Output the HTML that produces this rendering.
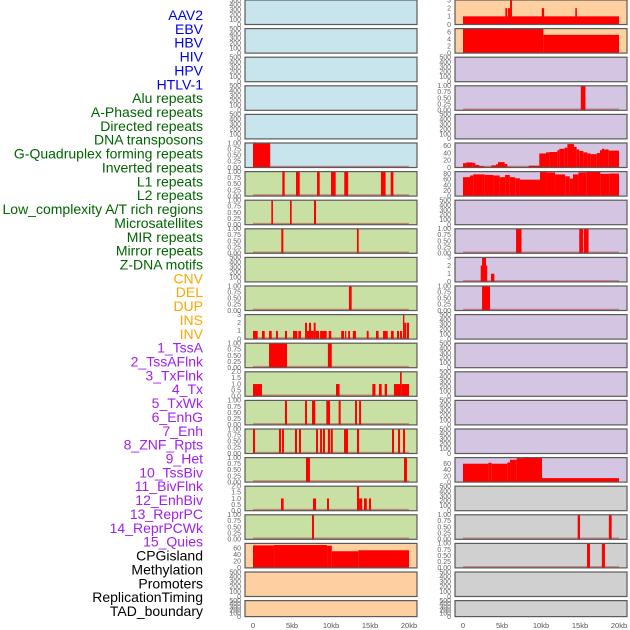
<!DOCTYPE html>
<html><head><meta charset="utf-8">
<style>
html,body{margin:0;padding:0;background:#fff;}
svg{display:block;font-family:"Liberation Sans",sans-serif;}
</style></head>
<body>
<svg id="chart" width="630" height="630" xmlns="http://www.w3.org/2000/svg"></svg>
<script>
// ---- data ----
const labelNames = ["AAV2","EBV","HBV","HIV","HPV","HTLV-1","Alu repeats","A-Phased repeats","Directed repeats","DNA transposons","G-Quadruplex forming repeats","Inverted repeats","L1 repeats","L2 repeats","Low_complexity A/T rich regions","Microsatellites","MIR repeats","Mirror repeats","Z-DNA motifs","CNV","DEL","DUP","INS","INV","1_TssA","2_TssAFlnk","3_TxFlnk","4_Tx","5_TxWk","6_EnhG","7_Enh","8_ZNF_Rpts","9_Het","10_TssBiv","11_BivFlnk","12_EnhBiv","13_ReprPC","14_ReprPCWk","15_Quies","CPGisland","Methylation","Promoters","ReplicationTiming","TAD_boundary"];
const labelColors = ["#0000ee","#0000ee","#0000ee","#0000ee","#0000ee","#0000ee","#006400","#006400","#006400","#006400","#006400","#006400","#006400","#006400","#006400","#006400","#006400","#006400","#006400","#ffa500","#ffa500","#ffa500","#ffa500","#ffa500","#a020f0","#a020f0","#a020f0","#a020f0","#a020f0","#a020f0","#a020f0","#a020f0","#a020f0","#a020f0","#a020f0","#a020f0","#a020f0","#a020f0","#a020f0","#000","#000","#000","#000","#000"];
const xTicks = [0,5,10,15,20];
const xTickLabels = ["0","5kb","10kb","15kb","20kb"];
const ticks500 = [0,100,200,300,400,500];
const ticks1 = [0,0.25,0.5,0.75,1];
const ticks1Lab = ["0.00","0.25","0.50","0.75","1.00"];
const ticks3 = [0,1,2,3];
const ticks2 = [0,0.5,1,1.5,2];
const ticks2Lab = ["0.0","0.5","1.0","1.5","2.0"];
// segments: [startKb, endKb, value]
const d_HTLV1 = [[0,2.2,1]];
const d_Alu = [[3.76,4.06,1],[5.51,5.99,1],[8.21,8.55,1],[10.0,10.6,1],[11.7,12.2,1],[16.4,17.0,1],[17.65,18.0,1]];
const d_APhased = [[2.35,2.56,1],[4.74,4.96,1],[7.82,8.08,1]];
const d_Directed = [[3.63,3.89,1],[13.33,13.55,1]];
const d_G4 = [[12.3,12.65,1]];
const d_Inverted = [[0,0.6,1],[1.15,1.5,1],[2.05,2.4,1],[2.95,3.2,1],[4.1,4.36,1],[5.13,5.68,1],[5.81,6.15,1],[6.67,6.92,2],[6.92,7.18,1],[7.18,7.44,2],[7.44,7.78,1],[7.78,8.03,2],[8.03,8.46,1],[8.6,9.45,1],[9.7,10.04,1],[11.3,11.67,1],[11.8,11.96,1],[12.2,12.44,1],[12.8,13.2,1],[14.58,14.83,1],[15.77,16.1,1],[16.67,17.27,1],[17.69,18.04,1],[18.46,18.72,1],[18.85,19.1,1],[19.23,19.4,3],[19.4,19.65,2],[19.74,20,2]];
const d_L1 = [[2.05,4.36,1],[9.6,10.1,1]];
const d_L2 = [[0,1.15,1],[10.64,11.1,1],[15.3,15.7,1],[16.15,16.5,1],[16.88,17.18,1],[18.07,18.85,1],[18.85,19.06,2],[19.06,20,1]];
const d_LowComp = [[4.1,4.36,1],[6.67,6.92,1],[7.56,7.99,1],[9.4,9.87,1],[10.98,11.24,1],[13.08,13.33,1],[13.6,13.85,1]];
const d_Micro = [[0,0.26,1],[3.33,3.59,1],[3.72,3.97,1],[5.38,5.64,1],[5.9,6.15,1],[8.08,8.33,1],[8.6,8.85,1],[8.97,9.23,1],[9.6,9.87,1],[9.97,10.23,1],[11.67,12.18,1],[13.33,13.6,1],[17.82,18.08,1],[18.59,18.85,1],[19.23,19.49,1]];
const d_MIR = [[6.79,7.3,1],[19.36,19.74,1]];
const d_Mirror = [[3.59,3.93,1],[7.69,8.08,1],[9.49,9.74,1],[13.33,13.6,2],[13.6,14.0,1],[14.23,14.6,1],[14.87,15.13,1]];
const d_ZDNA = [[7.56,7.82,1]];
const d_CNV = [[0,2.7,69],[2.7,9.5,70],[9.5,10.1,68],[10.1,13.5,51],[13.5,20,54]];
const d_INS = [[0,20,1],[5.43,5.68,2],[5.77,6.03,2],[6.03,6.28,3],[10.1,10.4,2],[14.4,14.6,2]];
const d_INV = [[0,10.3,7],[10.3,20,5.3]];
const d_TssAFlnk = [[15.1,15.7,1]];
const d_Tx = [[0,0.4,12],[0.4,1.24,14],[1.24,1.58,13],[1.58,2.09,7],[2.09,2.69,4],[3.63,4.23,6],[4.23,4.49,9],[4.49,5.34,15],[5.34,5.68,10],[5.68,8.42,1],[8.42,9.78,5],[9.78,10.64,39],[10.64,11.07,42],[11.07,12.09,43],[12.09,12.35,48],[12.35,13.03,52],[13.03,13.38,55],[13.38,14.23,65],[14.23,14.57,57],[14.57,14.91,50],[14.91,15.43,46],[15.43,15.94,42],[15.94,16.37,39],[16.37,17.14,37],[17.14,17.56,40],[17.56,17.82,48],[17.82,18.08,52],[18.08,18.68,50],[18.68,20,47]];
const d_TxWk = [[0,0.9,68],[0.9,1.3,74],[1.3,2.8,78],[2.8,3.9,76],[3.9,4.7,74],[4.7,5.4,68],[5.4,6.0,76],[6.0,6.7,68],[6.7,7.3,64],[7.3,9.87,59],[9.87,10.7,89],[10.7,11.8,85],[11.8,13.1,78],[13.1,13.7,71],[13.7,14.1,63],[14.1,14.8,78],[14.8,15.8,85],[15.8,17.6,89],[17.6,18.8,80],[18.8,20,81]];
const d_Enh = [[6.8,7.5,1],[14.9,15.4,1],[15.5,16.1,1]];
const d_ZNF = [[2.27,2.95,2],[2.44,2.95,3],[2.95,3.05,2],[3.59,4.02,1]];
const d_Het = [[2.44,3.46,1]];
const d_Quies = [[0,3.25,60],[3.25,3.68,63],[3.68,5.68,60],[5.68,6.03,64],[6.03,6.88,73],[6.88,7.82,78],[7.82,10.13,80],[10.13,20,13]];
const d_Methyl = [[14.7,15.0,1],[18.7,19.06,1]];
const d_Promoters = [[15.9,16.28,1],[17.8,18.2,1]];

const BLUE="#c8e4ec", GREEN="#c8e0a4", ORANGE="#fecf9f", PURPLE="#d4c5e2", GRAY="#d0d0d0";
// [column, row, bg, max, tickVals, tickLabels, data, name]
const tracks = [
 [0,0,BLUE,500,ticks500,null,null,"AAV2"],
 [0,1,BLUE,500,ticks500,null,null,"EBV"],
 [0,2,BLUE,500,ticks500,null,null,"HBV"],
 [0,3,BLUE,500,ticks500,null,null,"HIV"],
 [0,4,BLUE,500,ticks500,null,null,"HPV"],
 [0,5,BLUE,1,ticks1,ticks1Lab,d_HTLV1,"HTLV-1"],
 [0,6,GREEN,1,ticks1,ticks1Lab,d_Alu,"alu"],
 [0,7,GREEN,1,ticks1,ticks1Lab,d_APhased,"a-phased"],
 [0,8,GREEN,1,ticks1,ticks1Lab,d_Directed,"directed"],
 [0,9,GREEN,500,ticks500,null,null,"dna-transposons"],
 [0,10,GREEN,1,ticks1,ticks1Lab,d_G4,"g-quadruplex"],
 [0,11,GREEN,3,ticks3,null,d_Inverted,"inverted"],
 [0,12,GREEN,1,ticks1,ticks1Lab,d_L1,"l1"],
 [0,13,GREEN,2,ticks2,ticks2Lab,d_L2,"l2"],
 [0,14,GREEN,1,ticks1,ticks1Lab,d_LowComp,"low-complexity"],
 [0,15,GREEN,1,ticks1,ticks1Lab,d_Micro,"microsatellites"],
 [0,16,GREEN,1,ticks1,ticks1Lab,d_MIR,"mir"],
 [0,17,GREEN,2,ticks2,ticks2Lab,d_Mirror,"mirror"],
 [0,18,GREEN,1,ticks1,ticks1Lab,d_ZDNA,"z-dna"],
 [0,19,ORANGE,75,[0,20,40,60],null,d_CNV,"cnv"],
 [0,20,ORANGE,500,ticks500,null,null,"del"],
 [0,21,ORANGE,500,ticks500,null,null,"dup"],
 [1,0,ORANGE,3,ticks3,null,d_INS,"ins"],
 [1,1,ORANGE,7.1,[0,2,4,6],null,d_INV,"inv"],
 [1,2,PURPLE,500,ticks500,null,null,"tssa"],
 [1,3,PURPLE,1,ticks1,ticks1Lab,d_TssAFlnk,"tssaflnk"],
 [1,4,PURPLE,500,ticks500,null,null,"txflnk"],
 [1,5,PURPLE,68,[0,20,40,60],null,d_Tx,"tx"],
 [1,6,PURPLE,88,[0,20,40,60,80],null,d_TxWk,"txwk"],
 [1,7,PURPLE,500,ticks500,null,null,"enhg"],
 [1,8,PURPLE,1,ticks1,ticks1Lab,d_Enh,"enh"],
 [1,9,PURPLE,3,ticks3,null,d_ZNF,"znf-rpts"],
 [1,10,PURPLE,1,ticks1,ticks1Lab,d_Het,"het"],
 [1,11,PURPLE,500,ticks500,null,null,"tssbiv"],
 [1,12,PURPLE,500,ticks500,null,null,"bivflnk"],
 [1,13,PURPLE,500,ticks500,null,null,"enhbiv"],
 [1,14,PURPLE,500,ticks500,null,null,"reprpc"],
 [1,15,PURPLE,500,ticks500,null,null,"reprpcwk"],
 [1,16,PURPLE,80,[0,20,40,60],null,d_Quies,"quies"],
 [1,17,GRAY,500,ticks500,null,null,"cpgisland"],
 [1,18,GRAY,1,ticks1,ticks1Lab,d_Methyl,"methylation"],
 [1,19,GRAY,1,ticks1,ticks1Lab,d_Promoters,"promoters"],
 [1,20,GRAY,500,ticks500,null,null,"replication-timing"],
 [1,21,GRAY,500,ticks500,null,null,"tad-boundary"]
];

const NS="http://www.w3.org/2000/svg";
const svg=document.getElementById('chart');
function mk(tag,attrs,parent){const e=document.createElementNS(NS,tag);for(const k in attrs)e.setAttribute(k,attrs[k]);(parent||svg).appendChild(e);return e;}
const colX=[245,455], panelW=172;
function xScale(col,kb){return colX[col]+8+kb*7.8;}
function rowTop(r){return r*28.6;}
function rowH(r){return r===21?16:24.5;}

// labels
labelNames.forEach((n,i)=>{
  const t=mk('text',{x:203,y:15+i*13.86+5,'text-anchor':'end','font-size':'14',fill:labelColors[i]});
  t.textContent=n;
  
  
});

tracks.forEach(tr=>{
  const [col,row,bg,max,tv,tl,data,name]=tr;
  const top=rowTop(row), h=rowH(row), bottom=top+h, x0=colX[col];
  const g=mk('g',{});
  
  
  const yS=v=>bottom-v/max*h;
  mk('rect',{x:x0,y:top,width:panelW,height:h,fill:bg},g);
  // ticks
  tv.forEach((v,i)=>{
    const t=mk('text',{x:x0-4,y:yS(v)+2.3,'text-anchor':'end','font-size':'7',fill:'#666'},g);
    t.textContent=tl?tl[i]:String(v);
    
    
  });
  if(data){
    mk('line',{x1:xScale(col,0),x2:xScale(col,20),y1:bottom-0.8,y2:bottom-0.8,stroke:'rgba(190,60,60,0.55)','stroke-width':2},g);
    data.forEach(d=>{
      const b=mk('rect',{x:xScale(col,d[0]),y:yS(d[2]),width:Math.max(1.2,xScale(col,d[1])-xScale(col,d[0])),height:bottom-yS(d[2]),fill:'#ff0000'},g);
      
      
    });
  }
  mk('rect',{x:x0,y:top,width:panelW,height:h,fill:'none',stroke:'#5a5a5a','stroke-width':1.2},g);
});

// x axes
[0,1].forEach(col=>{
  xTicks.forEach((v,i)=>{
    const t=mk('text',{x:xScale(col,v),y:628,'text-anchor':'middle','font-size':'7.5',fill:'#555'});
    t.textContent=xTickLabels[i];
    
    
  });
});
</script>
</body></html>
